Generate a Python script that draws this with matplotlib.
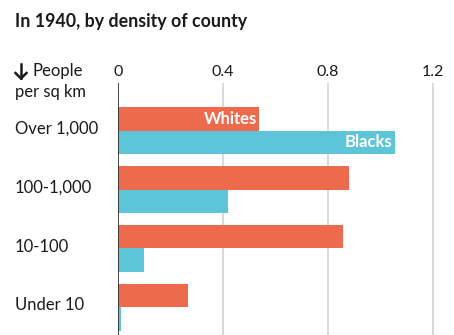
import matplotlib.pyplot as plt
import matplotlib.transforms as mtransforms
import numpy as np

plt.rcParams['font.family'] = ['Lato', 'DejaVu Sans']

# Data
categories = ['Over 1,000', '100-1,000', '10-100', 'Under 10']
whites = [0.538, 0.882, 0.859, 0.267]
blacks = [1.055, 0.42, 0.096, 0.01]
ticks = [0, 0.4, 0.8, 1.2]
tick_labels = ['0', '0.4', '0.8', '1.2']

red = '#ee6a4c'
blue = '#5ec4d7'
ink = '#1a1a1a'

W, H = 454, 335
fig = plt.figure(figsize=(W / 100, H / 100), dpi=100)
ax = fig.add_axes([118.5 / W, 0, (440 - 118.5) / W, (H - 83) / H])

y = np.arange(len(categories))
ax.barh(y - 0.2, whites, height=0.4, color=red, zorder=3)
ax.barh(y + 0.2, blacks, height=0.4, color=blue, zorder=3)

ax.set_xlim(0, 1.2285)
ax.set_ylim(3.473, -0.811)

# grid
for t in ticks[1:]:
    ax.axvline(t, color='#d9d9d9', lw=1.4, zorder=1)
ax.axvline(0, color='#333333', lw=1.3, zorder=4)

ax.set_xticks(ticks)
ax.set_xticklabels(tick_labels)
ax.tick_params(axis='x', top=True, labeltop=True, bottom=False, labelbottom=False,
               length=0, pad=3, labelsize=11.5, labelcolor=ink)
ax.set_yticks([])
for s in ax.spines.values():
    s.set_visible(False)

# bar labels
ax.text(whites[0] - 0.01, -0.2, 'Whites', color='white', fontsize=12,
        fontweight='bold', ha='right', va='center', zorder=5)
ax.text(blacks[0] - 0.01, 0.2, 'Blacks', color='white', fontsize=12,
        fontweight='bold', ha='right', va='center', zorder=5)

# category labels
trans = mtransforms.blended_transform_factory(fig.transFigure, ax.transData)
for i, c in enumerate(categories):
    ax.text(15 / W, i - 0.03, c, transform=trans, ha='left', va='center',
            fontsize=12, color=ink)

# down arrow
fig.add_artist(plt.Line2D([21 / W, 21 / W], [1 - 64 / H, 1 - 78 / H],
                          transform=fig.transFigure, color=ink, lw=1.8))
fig.add_artist(plt.Line2D([15.5 / W, 21 / W, 26.5 / W], [1 - 73 / H, 1 - 78.5 / H, 1 - 73 / H],
                          transform=fig.transFigure, color=ink, lw=1.8,
                          solid_joinstyle='miter'))
fig.text(32 / W, 1 - 71 / H, 'People', ha='left', va='center',
         fontsize=12, color=ink)
fig.text(15 / W, 1 - 92 / H, 'per sq km', ha='left', va='center',
         fontsize=12, color=ink)

fig.text(15 / W, 1 - 22 / H, 'In 1940, by density of county', ha='left', va='center',
         fontsize=12.8, fontweight='bold', color=ink)

fig.savefig('out.png', dpi=100, facecolor='white')
